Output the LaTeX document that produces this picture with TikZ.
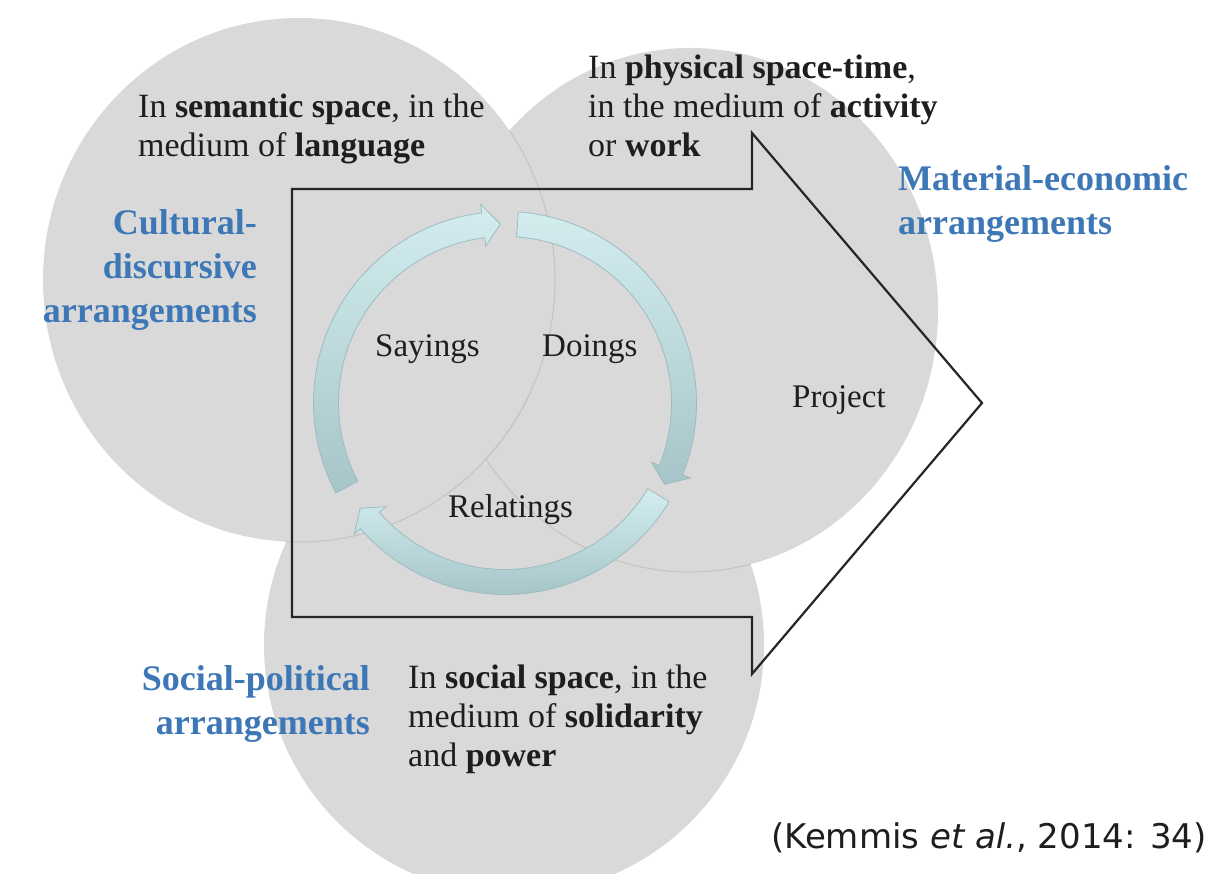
\documentclass[tikz,border=0pt]{standalone}
\usepackage{fontspec}
\setmainfont{Liberation Serif}
\newfontfamily\citefont{DejaVu Sans}
\definecolor{circgray}{HTML}{D9D9D9}
\definecolor{circedge}{HTML}{C3C3C3}
\definecolor{labelblue}{HTML}{3D77B6}
\definecolor{textblack}{HTML}{1E1E1E}
\definecolor{ringlight}{HTML}{D3EDEF}
\definecolor{ringdark}{HTML}{A6C5C9}
\definecolor{ringedge}{HTML}{9DBCC0}
\newcommand\ringseg[3]{%
  \shadedraw[ringarrow] (#1:191.5) arc[start angle=#1, end angle=#2, radius=191.5]
    -- (#2:200) -- (#3:179) -- (#2:158) -- (#2:166.5)
    arc[start angle=#2, end angle=#1, radius=166.5] -- cycle;}
\begin{document}
\begin{tikzpicture}[x=1pt,y=-1pt,
  bodytext/.style={inner sep=0pt, text=textblack, font=\fontsize{34}{39}\selectfont, align=left, anchor=base west},
  bluelabel/.style={inner sep=0pt, text=labelblue, font=\fontsize{36}{44}\selectfont\bfseries},
  cyclelabel/.style={inner sep=0pt, text=textblack, font=\fontsize{33}{39}\selectfont, anchor=base west},
  ringarrow/.style={top color=ringlight, bottom color=ringdark, draw=ringedge, line width=0.8pt},
  bigarrow/.style={draw=black!85, line width=2.2pt, line join=miter},
  circleedge/.style={draw=circedge, line width=1pt}]

\useasboundingbox (0,0) rectangle (1213,874);
\clip (0,0) rectangle (1213,874);
\fill[white] (0,0) rectangle (1213,874);

% circles
\fill[circgray] (514,645) circle [radius=250];
\fill[circgray] (690,310) ellipse [x radius=248, y radius=262];
\begin{scope}
  \clip (514,645) circle [radius=250];
  \draw[circleedge] (690,310) ellipse [x radius=248, y radius=262];
\end{scope}
\fill[circgray] (299,280) ellipse [x radius=256, y radius=262];
\begin{scope}
  \clip (514,645) circle [radius=250];
  \draw[circleedge] (299,280) ellipse [x radius=256, y radius=262];
\end{scope}
\begin{scope}
  \clip (690,310) ellipse [x radius=248, y radius=262];
  \draw[circleedge] (299,280) ellipse [x radius=256, y radius=262];
\end{scope}

% big arrow outline
\draw[bigarrow] (292,189) -- (752,189) -- (752,133) -- (982,403) -- (752,674) -- (752,617) -- (292,617) -- cycle;

% cycle ring
\begin{scope}[shift={(505,403)}, yscale=-1]
  \ringseg{208}{97}{91.5}
  \ringseg{86}{-22}{-27}
  \ringseg{-31}{-139}{-144}
\end{scope}

% texts (base anchor = baseline of the last line)
\node[bodytext] (semantic) at (138,157) {In \textbf{semantic space}, in the\\medium of \textbf{language}};
\node[bodytext] (physical) at (588,157) {In \textbf{physical space-time},\\in the medium of \textbf{activity}\\or \textbf{work}};
\node[bodytext] (social) at (408,766) {In \textbf{social space}, in the\\medium of \textbf{solidarity}\\and \textbf{power}};
\node[bluelabel, align=right, anchor=base east] (cultural) at (257,323) {Cultural-\\discursive\\arrangements};
\node[bluelabel, align=left, anchor=base west] (material) at (898,235) {Material-economic\\arrangements};
\node[bluelabel, align=right, anchor=base east] (socialpol) at (370,734) {Social-political\\arrangements};
\node[cyclelabel] (sayings) at (375,357) {Sayings};
\node[cyclelabel] (doings) at (542,357) {Doings};
\node[cyclelabel] (relatings) at (448,517) {Relatings};
\node[cyclelabel] (project) at (792,408) {Project};
\node[inner sep=0pt, anchor=base east, text=textblack, font=\citefont\fontsize{34}{39}\selectfont] (cite) at (1207,848) {(Kemmis \textit{et al.}, 2014: 34)};
\end{tikzpicture}
\end{document}
